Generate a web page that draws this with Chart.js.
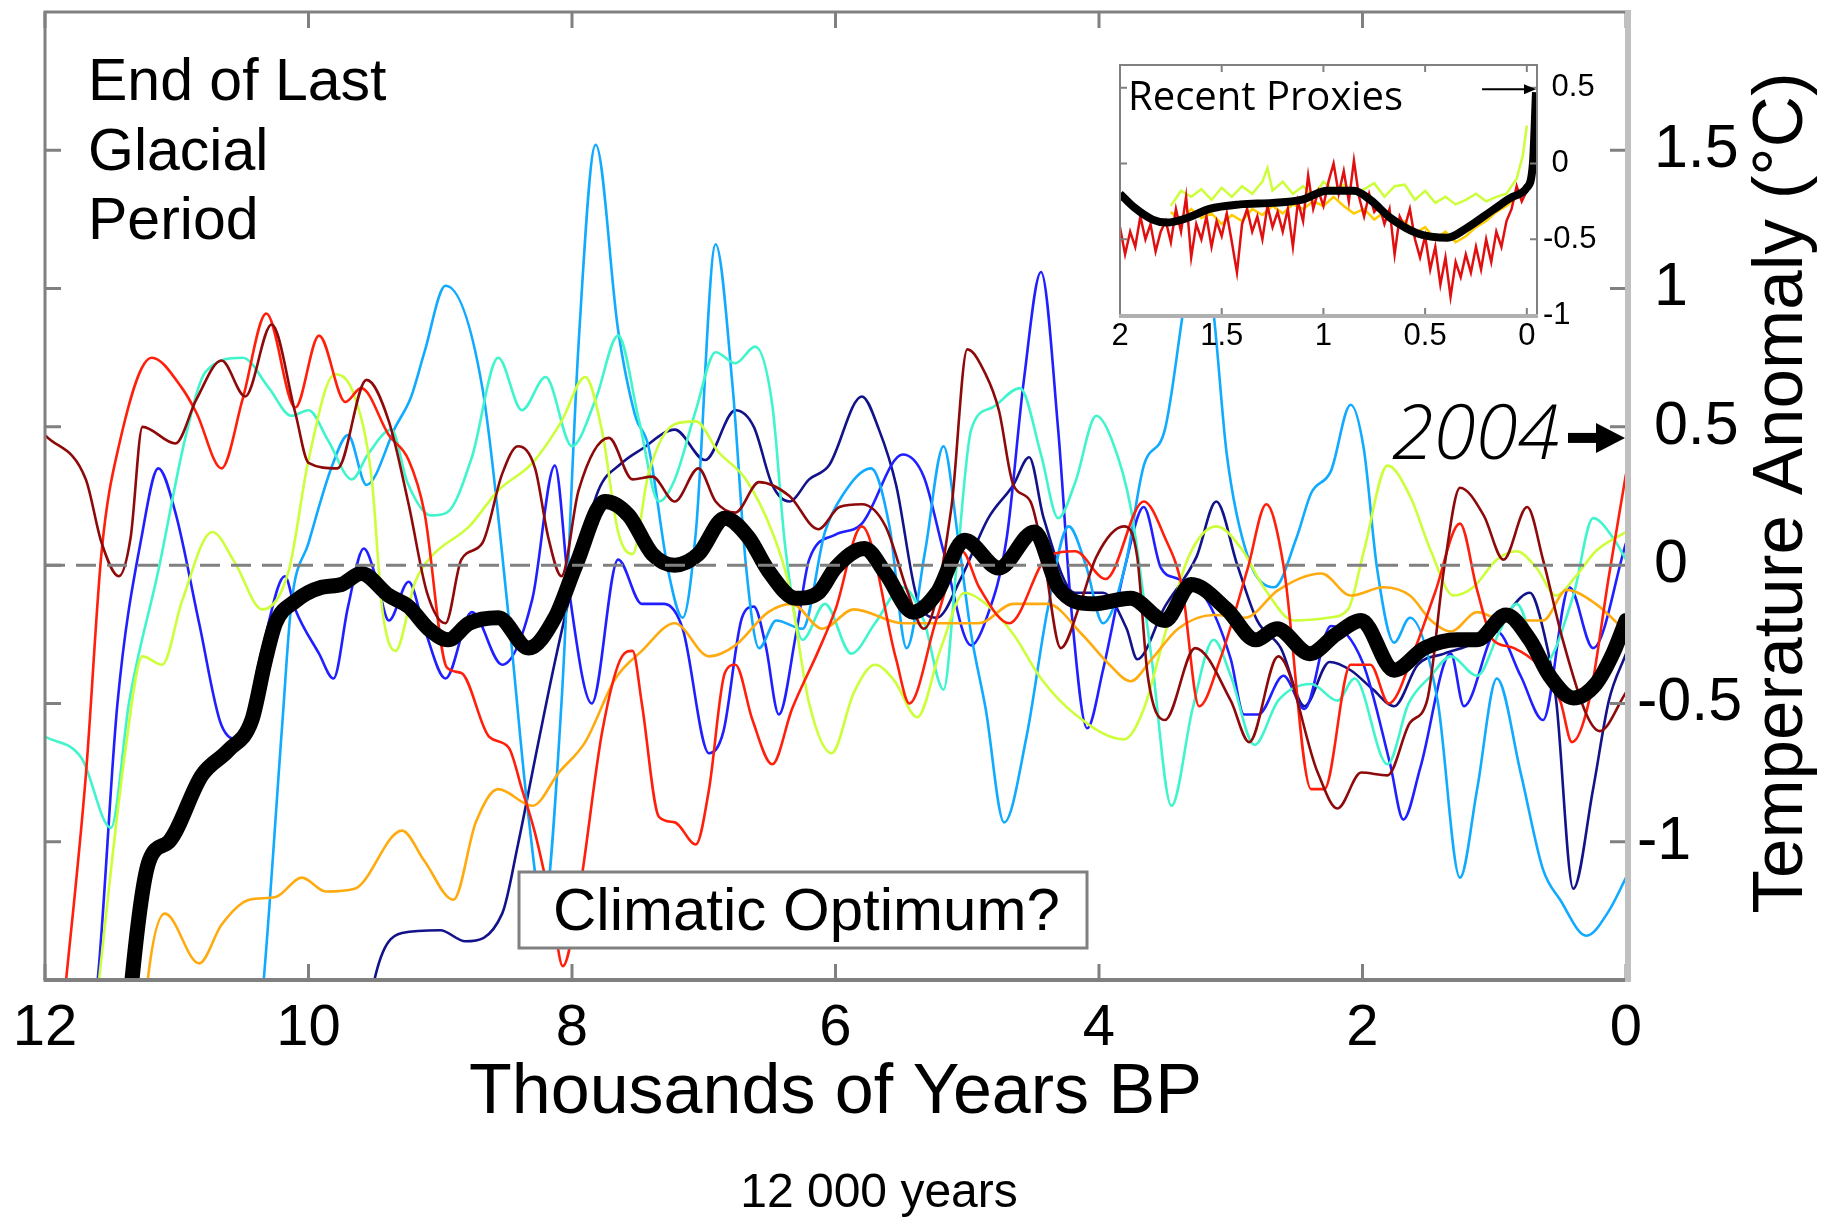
<!DOCTYPE html>
<html>
<head>
<meta charset="utf-8">
<script src="https://cdn.jsdelivr.net/npm/chart.js@4.4.1/dist/chart.umd.min.js"></script>
<style>
  html, body { margin: 0; padding: 0; background: #fff; }
  #wrap { position: relative; width: 1835px; height: 1218px; overflow: hidden; }
  #main { position: absolute; left: 0; top: 0; }
  #inset { position: absolute; left: 1090px; top: 40px; }
</style>
</head>
<body>
<div id="wrap">
  <canvas id="main" width="1835" height="1218"></canvas>
  <canvas id="inset" width="550" height="370"></canvas>
</div>
<script>
// ejes y etiquetas
const xTicks = [12, 10, 8, 6, 4, 2, 0];
const yTicks = [-1, -0.5, 0, 0.5, 1, 1.5];
const yTickLabels = ['-1', '-0.5', '0', '0.5', '1', '1.5'];
const insetXTicks = [2, 1.5, 1, 0.5, 0];
const insetXLabels = ['2', '1.5', '1', '0.5', '0'];
const insetYTicks = [-1, -0.5, 0, 0.5];
const insetYLabels = ['-1', '-0.5', '0', '0.5'];

// series [miles de años BP, anomalia]
const navySeries = [[9.65,-2.0],[9.5,-1.5],[9.29,-1.33],[9.0,-1.32],[8.81,-1.36],[8.53,-1.26],[8.41,-1.01],[8.28,-0.7],[8.13,-0.35],[7.97,-0.02],[7.8,0.27],[7.62,0.37],[7.47,0.42],[7.22,0.49],[6.99,0.38],[6.76,0.56],[6.62,0.5],[6.48,0.29],[6.35,0.23],[6.2,0.31],[6.05,0.36],[5.8,0.61],[5.67,0.49],[5.54,0.29],[5.38,-0.12],[5.23,-0.19],[5.05,-0.05],[4.84,0.17],[4.65,0.29],[4.53,0.39],[4.42,0.17],[4.18,-0.1],[3.97,-0.1],[3.79,-0.23],[3.71,-0.34],[3.5,-0.15],[3.26,0.03],[3.11,0.23],[2.95,0.0],[2.8,-0.2],[2.62,-0.3],[2.44,-0.51],[2.25,-0.35],[2.09,-0.38],[1.92,-0.45],[1.76,-0.51],[1.58,-0.36],[1.38,-0.32],[1.15,-0.28],[0.95,-0.2],[0.73,-0.1],[0.62,-0.25],[0.53,-0.49],[0.4,-1.17],[0.25,-0.81],[0.13,-0.49],[0.0,-0.32]];
const blueSeries = [[11.75,-2.0],[11.6,-1.5],[11.45,-0.5],[11.26,0.12],[11.14,0.35],[11.01,0.19],[10.83,-0.21],[10.66,-0.58],[10.53,-0.63],[10.35,-0.3],[10.18,-0.04],[10.1,-0.16],[9.92,-0.32],[9.81,-0.41],[9.7,-0.15],[9.58,0.06],[9.49,-0.04],[9.39,-0.2],[9.24,-0.06],[9.12,-0.23],[8.96,-0.41],[8.76,-0.17],[8.53,-0.36],[8.3,-0.12],[8.13,0.36],[8.02,-0.1],[7.85,-0.5],[7.65,0.02],[7.47,-0.14],[7.3,-0.14],[7.16,-0.23],[6.96,-0.68],[6.85,-0.6],[6.71,-0.19],[6.62,-0.15],[6.53,-0.29],[6.43,-0.54],[6.3,-0.25],[6.2,0.02],[6.0,0.11],[5.8,0.15],[5.49,0.4],[5.33,0.32],[5.18,0.05],[4.97,-0.29],[4.86,-0.2],[4.7,0.1],[4.57,0.67],[4.44,1.06],[4.31,0.49],[4.21,-0.16],[4.09,-0.59],[3.97,-0.38],[3.8,0.0],[3.66,0.21],[3.53,-0.01],[3.4,-0.05],[3.19,-0.12],[3.0,-0.34],[2.9,-0.54],[2.79,-0.54],[2.6,-0.4],[2.44,-0.52],[2.24,-0.22],[2.0,-0.35],[1.79,-0.72],[1.69,-0.92],[1.56,-0.73],[1.33,-0.32],[1.23,-0.51],[0.98,-0.24],[0.8,-0.4],[0.63,-0.56],[0.43,-0.08],[0.25,-0.3],[0.0,0.08]];
const lightBlueSeries = [[10.45,-2.0],[10.34,-1.5],[10.2,-0.58],[10.13,-0.14],[10.0,0.08],[9.82,0.36],[9.7,0.47],[9.56,0.29],[9.34,0.5],[9.22,0.61],[9.12,0.77],[8.96,1.01],[8.68,0.64],[8.48,-0.19],[8.33,-0.91],[8.22,-1.25],[8.08,-0.5],[7.95,0.8],[7.82,1.52],[7.65,0.85],[7.52,0.54],[7.42,0.43],[7.27,-0.02],[7.16,-0.19],[7.06,0.12],[6.91,1.16],[6.78,0.64],[6.68,0.0],[6.58,-0.3],[6.45,-0.2],[6.25,-0.23],[6.08,0.12],[5.95,0.25],[5.73,0.35],[5.59,0.14],[5.46,-0.3],[5.32,0.05],[5.18,0.43],[5.07,0.1],[4.97,-0.25],[4.86,-0.52],[4.72,-0.93],[4.55,-0.62],[4.39,-0.16],[4.23,0.14],[4.1,0.0],[3.97,-0.21],[3.8,0.0],[3.66,0.36],[3.5,0.49],[3.37,0.89],[3.25,1.3],[3.13,0.91],[3.03,0.4],[2.87,0.03],[2.67,-0.08],[2.5,0.1],[2.39,0.26],[2.24,0.34],[2.09,0.58],[1.99,0.42],[1.89,-0.01],[1.76,-0.28],[1.64,-0.19],[1.43,-0.49],[1.26,-1.13],[1.13,-0.81],[0.98,-0.41],[0.8,-0.75],[0.63,-1.1],[0.5,-1.21],[0.3,-1.34],[0.13,-1.25],[0.0,-1.13]];
const cyanSeries = [[12.0,-0.62],[11.72,-0.7],[11.5,-0.95],[11.36,-0.49],[11.14,-0.02],[10.93,0.47],[10.78,0.7],[10.5,0.75],[10.3,0.64],[10.13,0.54],[10.0,0.56],[9.85,0.45],[9.67,0.31],[9.55,0.4],[9.37,0.49],[9.25,0.3],[9.07,0.18],[8.95,0.19],[8.76,0.39],[8.56,0.75],[8.38,0.56],[8.2,0.68],[8.0,0.43],[7.82,0.6],[7.65,0.83],[7.49,0.52],[7.34,0.23],[7.22,0.31],[7.06,0.56],[6.91,0.77],[6.76,0.73],[6.61,0.79],[6.48,0.58],[6.38,0.06],[6.25,-0.27],[6.08,-0.14],[5.88,-0.32],[5.7,-0.21],[5.49,-0.08],[5.33,-0.2],[5.18,-0.45],[5.08,0.0],[4.97,0.49],[4.81,0.57],[4.6,0.64],[4.44,0.4],[4.31,0.17],[4.18,0.3],[4.02,0.54],[3.9,0.45],[3.76,0.21],[3.6,-0.34],[3.45,-0.87],[3.29,-0.52],[3.13,-0.27],[3.0,-0.4],[2.82,-0.65],[2.64,-0.49],[2.39,-0.43],[2.19,-0.49],[2.06,-0.41],[1.81,-0.72],[1.65,-0.5],[1.48,-0.4],[1.33,-0.33],[1.13,-0.4],[0.96,-0.24],[0.83,-0.14],[0.63,-0.36],[0.4,-0.11],[0.25,0.17],[0.1,0.1],[0.0,0.02]];
const yellowGreenSeries = [[11.7,-2.0],[11.59,-1.5],[11.39,-0.67],[11.26,-0.33],[11.11,-0.36],[10.96,-0.13],[10.73,0.12],[10.56,0.01],[10.35,-0.16],[10.15,-0.02],[10.0,0.38],[9.8,0.69],[9.65,0.61],[9.52,0.31],[9.44,-0.16],[9.34,-0.31],[9.19,-0.06],[9.07,0.03],[8.78,0.14],[8.56,0.27],[8.3,0.37],[8.08,0.52],[7.9,0.68],[7.77,0.48],[7.65,0.12],[7.54,0.04],[7.42,0.33],[7.22,0.51],[7.06,0.52],[6.89,0.41],[6.68,0.31],[6.48,0.12],[6.35,-0.08],[6.2,-0.5],[6.03,-0.68],[5.86,-0.46],[5.7,-0.36],[5.55,-0.42],[5.38,-0.55],[5.2,-0.3],[5.02,-0.1],[4.86,-0.14],[4.65,-0.25],[4.44,-0.41],[4.18,-0.54],[3.81,-0.63],[3.66,-0.52],[3.5,-0.25],[3.32,0.03],[3.11,0.14],[2.92,0.06],[2.75,-0.08],[2.52,-0.2],[2.26,-0.19],[2.11,-0.16],[1.99,0.05],[1.81,0.36],[1.64,0.25],[1.48,0.05],[1.31,-0.11],[1.16,-0.08],[0.98,0.02],[0.83,0.05],[0.68,-0.01],[0.53,-0.11],[0.38,-0.04],[0.23,0.05],[0.0,0.12]];
const orangeSeries = [[11.3,-2.0],[11.22,-1.5],[11.09,-1.26],[10.83,-1.44],[10.66,-1.3],[10.45,-1.21],[10.25,-1.2],[10.05,-1.13],[9.87,-1.18],[9.65,-1.17],[9.29,-0.96],[9.12,-1.07],[8.9,-1.21],[8.73,-0.93],[8.56,-0.81],[8.3,-0.87],[8.1,-0.75],[7.9,-0.64],[7.67,-0.41],[7.47,-0.31],[7.22,-0.21],[6.96,-0.33],[6.76,-0.29],[6.51,-0.17],[6.33,-0.14],[6.1,-0.23],[5.86,-0.16],[5.49,-0.21],[4.91,-0.21],[4.65,-0.14],[4.39,-0.14],[4.13,-0.25],[3.92,-0.36],[3.76,-0.42],[3.6,-0.34],[3.4,-0.23],[3.13,-0.18],[2.89,-0.19],[2.64,-0.09],[2.31,-0.03],[2.09,-0.11],[1.84,-0.08],[1.64,-0.11],[1.48,-0.2],[1.33,-0.24],[1.13,-0.17],[0.93,-0.2],[0.63,-0.2],[0.45,-0.09],[0.23,-0.14],[0.0,-0.24]];
const redSeries = [[11.95,-2.0],[11.84,-1.5],[11.69,-0.76],[11.57,0.05],[11.44,0.43],[11.19,0.75],[10.96,0.64],[10.85,0.55],[10.66,0.35],[10.5,0.6],[10.32,0.91],[10.1,0.57],[9.92,0.83],[9.72,0.59],[9.6,0.64],[9.39,0.47],[9.24,0.38],[9.12,0.19],[8.95,-0.37],[8.84,-0.39],[8.63,-0.62],[8.48,-0.66],[8.38,-0.81],[8.28,-0.97],[8.15,-1.25],[8.07,-1.45],[7.95,-1.2],[7.77,-0.6],[7.62,-0.33],[7.54,-0.31],[7.47,-0.5],[7.34,-0.91],[7.22,-0.93],[7.06,-1.01],[6.96,-0.81],[6.84,-0.39],[6.76,-0.36],[6.63,-0.56],[6.48,-0.72],[6.33,-0.52],[6.13,-0.31],[6.0,-0.16],[5.8,0.14],[5.54,-0.34],[5.44,-0.5],[5.23,-0.19],[5.04,0.05],[4.91,-0.08],[4.68,-0.21],[4.39,0.03],[4.18,0.05],[3.95,-0.05],[3.66,0.23],[3.5,0.1],[3.37,-0.08],[3.24,-0.51],[3.08,-0.34],[2.87,-0.01],[2.73,0.22],[2.6,0.0],[2.39,-0.81],[2.29,-0.81],[2.09,-0.36],[1.94,-0.36],[1.8,-0.5],[1.6,-0.3],[1.45,-0.1],[1.26,0.15],[1.13,-0.09],[1.01,-0.27],[0.85,-0.3],[0.5,-0.49],[0.41,-0.64],[0.28,-0.49],[0.13,-0.04],[0.0,0.33]];
const darkRedSeries = [[12.0,0.47],[11.69,0.31],[11.57,0.08],[11.44,-0.04],[11.35,0.1],[11.26,0.5],[11.01,0.44],[10.85,0.6],[10.66,0.74],[10.48,0.61],[10.28,0.87],[10.1,0.55],[10.0,0.37],[9.78,0.35],[9.56,0.67],[9.39,0.52],[9.24,0.22],[9.1,-0.1],[8.96,-0.21],[8.84,0.02],[8.68,0.08],[8.53,0.33],[8.41,0.43],[8.28,0.35],[8.18,0.1],[8.08,-0.04],[7.95,0.27],[7.72,0.46],[7.54,0.31],[7.39,0.32],[7.22,0.23],[7.04,0.35],[6.91,0.23],[6.76,0.19],[6.58,0.3],[6.35,0.25],[6.13,0.13],[5.97,0.21],[5.8,0.22],[5.62,0.14],[5.45,-0.1],[5.33,-0.23],[5.12,0.21],[5.0,0.78],[4.86,0.69],[4.76,0.56],[4.65,0.29],[4.52,0.23],[4.42,0.03],[4.29,-0.3],[4.15,-0.15],[4.02,0.03],[3.81,0.14],[3.71,0.03],[3.63,-0.4],[3.5,-0.56],[3.27,-0.3],[3.0,-0.49],[2.86,-0.64],[2.64,-0.33],[2.34,-0.75],[2.19,-0.88],[2.01,-0.75],[1.81,-0.76],[1.64,-0.57],[1.51,-0.49],[1.38,-0.01],[1.26,0.28],[1.08,0.18],[0.93,0.02],[0.75,0.21],[0.63,0.02],[0.48,-0.27],[0.3,-0.54],[0.2,-0.6],[0.0,-0.46]];
const meanSeries = [[11.42,-2.0],[11.34,-1.5],[11.21,-1.07],[11.06,-1.0],[10.81,-0.76],[10.61,-0.67],[10.43,-0.56],[10.33,-0.35],[10.25,-0.21],[10.1,-0.13],[9.9,-0.08],[9.75,-0.07],[9.6,-0.03],[9.39,-0.11],[9.24,-0.15],[9.09,-0.23],[8.94,-0.27],[8.78,-0.21],[8.56,-0.19],[8.33,-0.3],[8.13,-0.19],[7.97,0.0],[7.75,0.23],[7.57,0.18],[7.39,0.04],[7.22,0.0],[7.04,0.04],[6.84,0.17],[6.66,0.1],[6.51,-0.02],[6.3,-0.12],[6.13,-0.1],[6.0,-0.01],[5.78,0.06],[5.62,-0.03],[5.41,-0.17],[5.23,-0.1],[5.02,0.09],[4.76,-0.01],[4.49,0.12],[4.31,-0.08],[4.05,-0.14],[3.76,-0.12],[3.5,-0.2],[3.3,-0.07],[3.03,-0.16],[2.81,-0.27],[2.65,-0.23],[2.4,-0.32],[2.2,-0.25],[2.01,-0.2],[1.76,-0.38],[1.53,-0.3],[1.28,-0.27],[1.13,-0.27],[0.91,-0.18],[0.73,-0.27],[0.58,-0.4],[0.4,-0.48],[0.23,-0.43],[0.1,-0.32],[0.0,-0.2]];
const zeroLine = [[12, 0], [0, 0]];
const arrow2004 = 0.46;

// recuadro: proxies recientes (2000 años)
const insetMean = [[2.0,-0.2],[1.93,-0.29],[1.84,-0.37],[1.77,-0.39],[1.67,-0.36],[1.56,-0.3],[1.41,-0.27],[1.25,-0.26],[1.11,-0.24],[0.98,-0.18],[0.85,-0.18],[0.77,-0.24],[0.67,-0.36],[0.54,-0.46],[0.39,-0.49],[0.3,-0.43],[0.16,-0.3],[0.07,-0.22],[0.0,-0.16],[-0.03,0.0],[-0.045,0.47]];
const insetRed = [[2.0,-0.42],[1.975,-0.6],[1.95,-0.45],[1.925,-0.55],[1.9,-0.35],[1.875,-0.5],[1.85,-0.4],[1.825,-0.58],[1.8,-0.45],[1.775,-0.38],[1.75,-0.52],[1.725,-0.3],[1.7,-0.45],[1.675,-0.22],[1.65,-0.62],[1.625,-0.4],[1.6,-0.5],[1.575,-0.35],[1.55,-0.55],[1.525,-0.38],[1.5,-0.48],[1.475,-0.33],[1.45,-0.52],[1.425,-0.72],[1.4,-0.4],[1.375,-0.3],[1.35,-0.45],[1.325,-0.35],[1.3,-0.5],[1.275,-0.28],[1.25,-0.42],[1.225,-0.32],[1.2,-0.45],[1.175,-0.3],[1.15,-0.55],[1.125,-0.25],[1.1,-0.38],[1.075,-0.08],[1.05,-0.3],[1.025,-0.18],[1.0,-0.28],[0.975,-0.12],[0.95,0.0],[0.925,-0.2],[0.9,-0.05],[0.875,-0.25],[0.85,0.02],[0.825,-0.22],[0.8,-0.35],[0.775,-0.2],[0.75,-0.32],[0.725,-0.28],[0.7,-0.4],[0.675,-0.3],[0.65,-0.6],[0.625,-0.35],[0.6,-0.42],[0.575,-0.3],[0.55,-0.5],[0.525,-0.62],[0.5,-0.48],[0.475,-0.7],[0.45,-0.55],[0.425,-0.8],[0.4,-0.62],[0.375,-0.88],[0.35,-0.65],[0.325,-0.75],[0.3,-0.6],[0.275,-0.72],[0.25,-0.55],[0.225,-0.7],[0.2,-0.5],[0.175,-0.65],[0.15,-0.45],[0.125,-0.55],[0.1,-0.38],[0.075,-0.3],[0.05,-0.15],[0.025,-0.25],[0.0,-0.18]];
const insetYellowGreen = [[1.75,-0.28],[1.7,-0.18],[1.65,-0.22],[1.6,-0.17],[1.55,-0.24],[1.5,-0.16],[1.45,-0.22],[1.4,-0.15],[1.35,-0.2],[1.3,-0.12],[1.275,-0.03],[1.25,-0.18],[1.2,-0.12],[1.15,-0.2],[1.1,-0.15],[1.05,-0.22],[1.0,-0.12],[0.95,-0.18],[0.9,-0.14],[0.85,-0.2],[0.8,-0.17],[0.75,-0.13],[0.7,-0.22],[0.65,-0.15],[0.6,-0.14],[0.55,-0.24],[0.5,-0.18],[0.45,-0.26],[0.4,-0.22],[0.35,-0.27],[0.3,-0.24],[0.25,-0.2],[0.2,-0.25],[0.15,-0.22],[0.1,-0.2],[0.05,-0.1],[0.02,0.05],[0.0,0.25]];
const insetGold = [[1.75,-0.32],[1.7,-0.38],[1.65,-0.3],[1.6,-0.36],[1.55,-0.33],[1.5,-0.4],[1.45,-0.34],[1.4,-0.38],[1.35,-0.3],[1.3,-0.34],[1.25,-0.28],[1.2,-0.33],[1.15,-0.27],[1.1,-0.3],[1.05,-0.25],[1.0,-0.28],[0.95,-0.22],[0.9,-0.28],[0.85,-0.33],[0.8,-0.3],[0.75,-0.37],[0.7,-0.32],[0.65,-0.4],[0.6,-0.38],[0.55,-0.46],[0.5,-0.42],[0.45,-0.5],[0.4,-0.45],[0.35,-0.52],[0.3,-0.48],[0.25,-0.42],[0.2,-0.38],[0.15,-0.32],[0.1,-0.28],[0.05,-0.22],[0.0,-0.15]];

const FONT = '"Liberation Sans", Arial, Helvetica, sans-serif';

function toXY(pairs) { return pairs.map(p => ({ x: p[0], y: p[1] })); }

function proxyLine(pairs, color, order) {
    return { data: toXY(pairs), borderColor: color, borderWidth: 2.6, pointRadius: 0,
             cubicInterpolationMode: 'monotone', order: order, fill: false };
}

function labelFor(v, ticks, labels) {
    const i = ticks.findIndex(t => Math.abs(t - v) < 1e-6);
    if (i < 0) return null;
    const s = labels[i];
    // hueco para el signo menos, como en la figura original
    return s.startsWith('-') ? s : '\u2008' + s;
}

// marco, marcas hacia adentro y textos
const frameMain = {
    id: 'frameMain',
    afterDatasetsDraw(chart) {
        const { ctx, chartArea: a, scales: { x, y } } = chart;
        ctx.save();
        // recuadro "Climatic Optimum?"
        ctx.fillStyle = '#fff';
        ctx.fillRect(519, 872, 568, 76);
        ctx.strokeStyle = '#808080';
        ctx.lineWidth = 3;
        ctx.strokeRect(519, 872, 568, 76);
        ctx.fillStyle = '#000';
        ctx.font = '60px ' + FONT;
        ctx.textBaseline = 'alphabetic';
        ctx.textAlign = 'left';
        ctx.fillText('Climatic Optimum?', 553, 930);

        ctx.font = '59px ' + FONT;
        ctx.fillText('End of Last', 88, 100);
        ctx.fillText('Glacial', 88, 170);
        ctx.fillText('Period', 88, 239);

        // marco
        ctx.lineCap = 'butt';
        ctx.strokeStyle = '#808080';
        ctx.lineWidth = 3;
        ctx.beginPath();
        ctx.moveTo(a.left, a.bottom); ctx.lineTo(a.left, a.top); ctx.lineTo(a.right, a.top);
        ctx.stroke();
        ctx.lineWidth = 4;
        ctx.beginPath(); ctx.moveTo(a.left - 1.5, a.bottom); ctx.lineTo(a.right, a.bottom); ctx.stroke();
        ctx.lineWidth = 3;
        xTicks.forEach(v => {
            const px = x.getPixelForValue(v);
            ctx.beginPath();
            ctx.moveTo(px, a.top); ctx.lineTo(px, a.top + 16);
            ctx.moveTo(px, a.bottom); ctx.lineTo(px, a.bottom - 16);
            ctx.stroke();
        });
        yTicks.forEach(v => {
            const py = y.getPixelForValue(v);
            ctx.beginPath();
            ctx.moveTo(a.left, py); ctx.lineTo(a.left + 16, py);
            ctx.moveTo(a.right, py); ctx.lineTo(a.right - 16, py);
            ctx.stroke();
        });
        ctx.strokeStyle = '#c0c0c0';
        ctx.lineWidth = 6;
        ctx.beginPath(); ctx.moveTo(a.right + 2, a.top - 2); ctx.lineTo(a.right + 2, a.bottom + 2); ctx.stroke();
        ctx.restore();
    },
    afterDraw(chart) {
        const { ctx, chartArea: a, scales: { y } } = chart;
        ctx.save();
        ctx.fillStyle = '#000';
        // 2004 ->
        ctx.font = 'italic 300 76px "Open Sans", ' + FONT;
        ctx.textAlign = 'left';
        ctx.textBaseline = 'alphabetic';
        ctx.fillText('2004', 1392, 459);
        const ay = y.getPixelForValue(arrow2004);
        ctx.fillRect(a.right - 58, ay - 5, 34, 10);
        ctx.beginPath();
        ctx.moveTo(a.right - 30, ay - 15); ctx.lineTo(a.right - 1, ay); ctx.lineTo(a.right - 30, ay + 15);
        ctx.closePath(); ctx.fill();

        // titulo eje y
        ctx.translate(1782, 493);
        ctx.rotate(-Math.PI / 2);
        ctx.textAlign = 'center';
        ctx.textBaseline = 'middle';
        ctx.font = '71px ' + FONT;
        ctx.fillText('Temperature Anomaly (\u00B0C)', 0, 0);
        ctx.restore();

        ctx.save();
        ctx.fillStyle = '#000';
        ctx.font = '48px ' + FONT;
        ctx.textAlign = 'center';
        ctx.textBaseline = 'alphabetic';
        ctx.fillText('12 000 years', 879, 1207);
        ctx.restore();
    }
};

new Chart(document.getElementById('main'), {
    type: 'line',
    data: {
        datasets: [
            { data: toXY(zeroLine), borderColor: '#808080', borderWidth: 3, borderDash: [20, 11],
              pointRadius: 0, order: 0 },
            { data: toXY(meanSeries), borderColor: '#000', borderWidth: 15, pointRadius: 0,
              cubicInterpolationMode: 'monotone', borderJoinStyle: 'round', borderCapStyle: 'round', order: 1 },
            proxyLine(darkRedSeries, '#8e0a0a', 2),
            proxyLine(redSeries, '#ff1f0a', 3),
            proxyLine(orangeSeries, '#ffab0f', 4),
            proxyLine(yellowGreenSeries, '#ccff3a', 5),
            proxyLine(cyanSeries, '#40f5cc', 6),
            proxyLine(lightBlueSeries, '#10aaff', 7),
            proxyLine(blueSeries, '#1f1fff', 8),
            proxyLine(navySeries, '#12128a', 9)
        ]
    },
    options: {
        responsive: false,
        devicePixelRatio: 1,
        animation: false,
        layout: { padding: { left: 45, top: 12, right: 0, bottom: 0 } },
        plugins: { legend: { display: false }, tooltip: { enabled: false } },
        scales: {
            x: {
                type: 'linear', min: 0, max: 12, reverse: true,
                afterFit: s => { s.height = 238; s.paddingLeft = 0; s.paddingRight = 0; },
                grid: { display: false, drawTicks: false },
                border: { display: false },
                ticks: { stepSize: 2, padding: 14, maxRotation: 0, autoSkip: false, color: '#000',
                         font: { family: FONT, size: 58 },
                         callback: v => labelFor(v, xTicks, xTicks.map(String)).trim() },
                title: { display: true, text: 'Thousands of Years BP', color: '#000',
                         font: { family: FONT, size: 70 }, padding: { top: 0, bottom: 82 } }
            },
            y: {
                type: 'linear', position: 'right', min: -1.5, max: 2,
                afterFit: s => { s.width = 209; s.paddingTop = 0; s.paddingBottom = 0; },
                grid: { display: false, drawTicks: false },
                border: { display: false },
                ticks: { stepSize: 0.5, padding: 11, autoSkip: false, color: '#000',
                         font: { family: FONT, size: 61 },
                         callback: v => labelFor(v, yTicks, yTickLabels) }
            }
        }
    },
    plugins: [frameMain]
});

// recuadro "Recent Proxies"
const frameInset = {
    id: 'frameInset',
    beforeDatasetsDraw(chart) {
        const { ctx, chartArea: a } = chart;
        ctx.save();
        ctx.fillStyle = '#fff';
        ctx.fillRect(a.left, a.top, a.right - a.left, a.bottom - a.top);
        ctx.restore();
    },
    afterDatasetsDraw(chart) {
        const { ctx, chartArea: a, scales: { x, y } } = chart;
        ctx.save();
        ctx.strokeStyle = '#808080';
        ctx.lineWidth = 2;
        ctx.beginPath();
        ctx.moveTo(a.left, a.bottom); ctx.lineTo(a.left, a.top); ctx.lineTo(a.right, a.top); ctx.lineTo(a.right, a.bottom);
        ctx.stroke();
        insetXTicks.forEach(v => {
            const px = x.getPixelForValue(v);
            ctx.beginPath();
            ctx.moveTo(px, a.top); ctx.lineTo(px, a.top + 7);
            ctx.moveTo(px, a.bottom); ctx.lineTo(px, a.bottom - 7);
            ctx.stroke();
        });
        insetYTicks.forEach(v => {
            const py = y.getPixelForValue(v);
            ctx.beginPath();
            ctx.moveTo(a.left, py); ctx.lineTo(a.left + 7, py);
            ctx.moveTo(a.right, py); ctx.lineTo(a.right - 7, py);
            ctx.stroke();
        });
        ctx.strokeStyle = '#b0b0b0';
        ctx.lineWidth = 4;
        ctx.beginPath(); ctx.moveTo(a.left - 1, a.bottom + 1); ctx.lineTo(a.right + 1, a.bottom + 1); ctx.stroke();

        ctx.fillStyle = '#000';
        ctx.font = '40px "Open Sans", ' + FONT;
        ctx.textAlign = 'left';
        ctx.textBaseline = 'alphabetic';
        ctx.fillText('Recent Proxies', 38, 70);

        // flecha hacia el valor de 2004
        const ay = y.getPixelForValue(0.49);
        const x0 = x.getPixelForValue(0.22), x1 = x.getPixelForValue(-0.045);
        ctx.strokeStyle = '#000';
        ctx.lineWidth = 2;
        ctx.beginPath(); ctx.moveTo(x0, ay); ctx.lineTo(x1 - 8, ay); ctx.stroke();
        ctx.beginPath();
        ctx.moveTo(x1 - 12, ay - 5); ctx.lineTo(x1, ay); ctx.lineTo(x1 - 12, ay + 5);
        ctx.closePath(); ctx.fill();
        ctx.restore();
    }
};

new Chart(document.getElementById('inset'), {
    type: 'line',
    data: {
        datasets: [
            { data: toXY(insetMean), borderColor: '#000', borderWidth: 8, pointRadius: 0,
              cubicInterpolationMode: 'monotone', borderJoinStyle: 'round', order: 0 },
            { data: toXY(insetRed), borderColor: '#e01010', borderWidth: 2.5, pointRadius: 0, order: 1 },
            { data: toXY(insetGold), borderColor: '#ffcc00', borderWidth: 2.5, pointRadius: 0, order: 2 },
            { data: toXY(insetYellowGreen), borderColor: '#ccff3a', borderWidth: 2.5, pointRadius: 0, order: 3 }
        ]
    },
    options: {
        responsive: false,
        devicePixelRatio: 1,
        animation: false,
        layout: { padding: { left: 30, top: 25, right: 0, bottom: 0 } },
        plugins: { legend: { display: false }, tooltip: { enabled: false } },
        scales: {
            x: {
                type: 'linear', min: -0.05, max: 2, reverse: true,
                afterFit: s => { s.height = 95; s.paddingLeft = 0; s.paddingRight = 0; },
                grid: { display: false, drawTicks: false },
                border: { display: false },
                ticks: { stepSize: 0.5, includeBounds: false, padding: 3, maxRotation: 0, autoSkip: false,
                         color: '#000', font: { family: FONT, size: 31 },
                         callback: v => { const s = labelFor(v, insetXTicks, insetXLabels); return s ? s.trim() : null; } }
            },
            y: {
                type: 'linear', position: 'right', min: -1, max: 0.65,
                afterFit: s => { s.width = 103; s.paddingTop = 0; s.paddingBottom = 0; },
                grid: { display: false, drawTicks: false },
                border: { display: false },
                ticks: { stepSize: 0.5, includeBounds: false, padding: 6, autoSkip: false, color: '#000',
                         font: { family: FONT, size: 31 },
                         callback: v => labelFor(v, insetYTicks, insetYLabels) }
            }
        }
    },
    plugins: [frameInset]
});
</script>
</body>
</html>
